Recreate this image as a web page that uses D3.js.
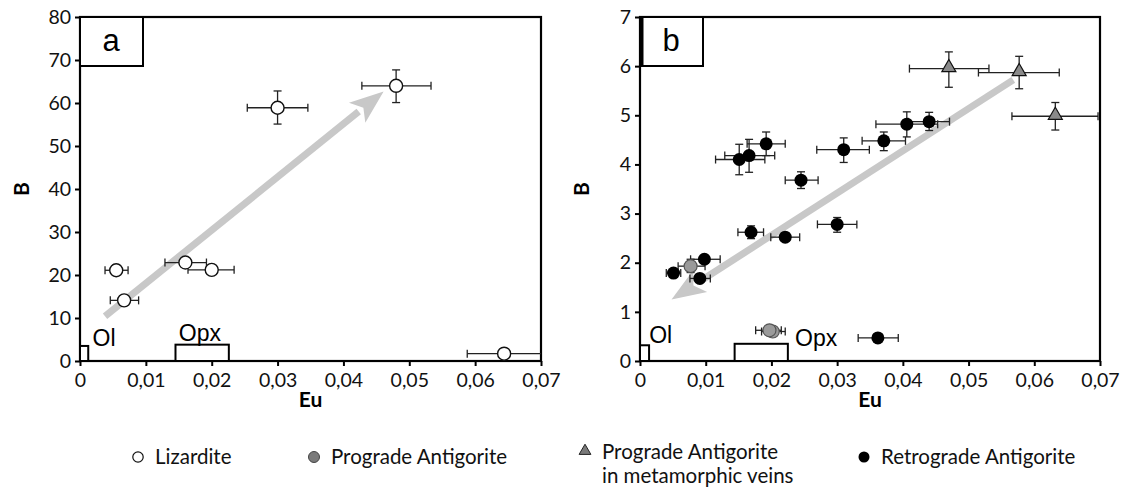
<!DOCTYPE html>
<html><head><meta charset="utf-8">
<script src="https://cdn.jsdelivr.net/npm/d3@7"></script>
<style>body{margin:0;background:#fff}svg{display:block}</style>
</head><body>
<svg id="c" width="1136" height="487"></svg>
<script>
// ---- Panel a : Lizardite ----
const lizX   = [0.0480, 0.0300, 0.0160, 0.0200, 0.0055, 0.0067, 0.0644];
const lizY   = [64.0, 58.9, 22.9, 21.2, 21.1, 14.1, 1.7];
const lizXLo = [0.0428, 0.0254, 0.0129, 0.0164, 0.0038, 0.0046, 0.0588];
const lizXHi = [0.0533, 0.0346, 0.0192, 0.0234, 0.0073, 0.0089, 0.0700];
const lizYLo = [60.1, 55.1, 22.9, 21.2, 19.9, 14.1, 1.7];
const lizYHi = [67.7, 62.8, 22.9, 21.2, 22.3, 14.1, 1.7];

// ---- Panel b ----
const retroX   = [0.0406, 0.0440, 0.0371, 0.0310, 0.0192, 0.0166, 0.0151, 0.0245, 0.0169, 0.0221, 0.0300, 0.0098, 0.0051, 0.0091, 0.0362];
const retroY   = [4.82, 4.87, 4.48, 4.30, 4.42, 4.18, 4.10, 3.68, 2.62, 2.52, 2.78, 2.07, 1.79, 1.68, 0.47];
const retroXLo = [0.0359, 0.0408, 0.0338, 0.0269, 0.0163, 0.0129, 0.0115, 0.0221, 0.0149, 0.0199, 0.0270, 0.0077, 0.0040, 0.0076, 0.0332];
const retroXHi = [0.0453, 0.0471, 0.0404, 0.0349, 0.0221, 0.0205, 0.0190, 0.0271, 0.0188, 0.0243, 0.0330, 0.0122, 0.0062, 0.0107, 0.0393];
const retroYLo = [4.56, 4.69, 4.28, 4.04, 4.18, 3.84, 3.79, 3.51, 2.49, 2.44, 2.62, 1.99, 1.74, 1.62, 0.47];
const retroYHi = [5.07, 5.06, 4.66, 4.54, 4.66, 4.51, 4.41, 3.85, 2.75, 2.60, 2.92, 2.15, 1.85, 1.74, 0.47];

const progX   = [0.0202, 0.0197, 0.0077];
const progY   = [0.600, 0.625, 1.93];
const progXLo = [0.0185, 0.0176, 0.0058];
const progXHi = [0.0221, 0.0215, 0.0099];
const progYLo = [0.600, 0.625, 1.80];
const progYHi = [0.600, 0.625, 2.07];

const veinX   = [0.0470, 0.0577, 0.0632];
const veinY   = [5.95, 5.87, 4.98];
const veinXLo = [0.0410, 0.0515, 0.0566];
const veinXHi = [0.0531, 0.0638, 0.0697];
const veinYLo = [5.57, 5.54, 4.70];
const veinYHi = [6.29, 6.20, 5.26];

// tick values
const xTicks = [0, 0.01, 0.02, 0.03, 0.04, 0.05, 0.06, 0.07];
const yTicksA = [0, 10, 20, 30, 40, 50, 60, 70, 80];
const yTicksB = [0, 1, 2, 3, 4, 5, 6, 7];

// arrows (trend) [x1,y1,x2,y2] in data units
const arrowA = [0.0038, 10.4, 0.0461, 62.7];
const arrowB = [0.0568, 5.72, 0.0048, 1.25];

// reference mineral boxes [x0,x1,y0,y1]
const olA = [0, 0.00125, 0, 3.5], opxA = [0.0145, 0.0226, 0, 3.8];
const olB = [0, 0.00138, 0, 0.32], opxB = [0.0144, 0.0225, 0, 0.35];

const legendItems = ["Lizardite", "Prograde Antigorite", "Prograde Antigorite|in metamorphic veins", "Retrograde Antigorite"];

const svg = d3.select("#c");
const fmt = d => d === 0 ? "0" : d3.format(".2f")(d).replace(".", ",");

function rows(X, Y, XL, XH, YL, YH) {
  return X.map((x, i) => ({x, y: Y[i], xl: XL[i], xh: XH[i], yl: YL[i], yh: YH[i]}));
}

function panel(opts) {
  const {left, right, top, bottom, yMax, yTicks, label, arrow, ol, opx, olT, opxT} = opts;
  const x = d3.scaleLinear().domain([0, 0.07]).range([left, right]);
  const y = d3.scaleLinear().domain([0, yMax]).range([bottom, top]);
  const g = svg.append("g");

  // axes
  const xa = g.append("g").attr("transform", `translate(0,${bottom})`)
    .call(d3.axisBottom(x).tickValues(xTicks).tickFormat(fmt).tickSize(5).tickSizeOuter(0));
  const ya = g.append("g").attr("transform", `translate(${left},0)`)
    .call(d3.axisLeft(y).tickValues(yTicks).tickFormat(d => d).tickSize(5).tickSizeOuter(0));
  [xa, ya].forEach(a => {
    a.select(".domain").remove();
    a.selectAll("line").attr("stroke", "#000").attr("stroke-width", 2);
    a.selectAll("text").attr("fill", "#111").style("font-family", "Lato, 'Open Sans', sans-serif").style("font-size", "19.5px");
  });
  xa.selectAll("text").attr("dy", "0.9em");
  ya.selectAll("text").attr("dx", "-0.05em");

  // frame
  g.append("rect").attr("x", left).attr("y", top).attr("width", right - left).attr("height", bottom - top)
    .attr("fill", "none").attr("stroke", "#000").attr("stroke-width", 2.2);

  // axis titles
  g.append("text").attr("x", (left + right) / 2).attr("y", 407).attr("text-anchor", "middle")
    .style("font-family", "Lato, sans-serif").style("font-weight", "bold").style("font-size", "21px").text("Eu");
  g.append("text").attr("transform", `translate(${left - 58},${(top + bottom) / 2}) rotate(-90)`)
    .attr("text-anchor", "middle").attr("dy", "0.35em")
    .style("font-family", "Lato, sans-serif").style("font-weight", "bold").style("font-size", "21px").text("B");

  // label box
  g.append("rect").attr("x", left).attr("y", top).attr("width", 63).attr("height", 49)
    .attr("fill", "#fff").attr("stroke", "#000").attr("stroke-width", 2);
  g.append("text").attr("x", left + 31).attr("y", top + 34).attr("text-anchor", "middle")
    .style("font-family", "'Liberation Sans', Arial, sans-serif").style("font-size", "31px").text(label);

  // Ol / Opx boxes
  [ol, opx].forEach(b => {
    g.append("rect").attr("x", x(b[0])).attr("y", y(b[3])).attr("width", x(b[1]) - x(b[0])).attr("height", y(b[2]) - y(b[3]))
      .attr("fill", "#fff").attr("stroke", "#000").attr("stroke-width", 2);
  });
  [[olT, "Ol"], [opxT, "Opx"]].forEach(([p, t]) => {
    g.append("text").attr("x", x(p[0])).attr("y", y(p[1]))
      .style("font-family", "'Liberation Sans', Arial, sans-serif").style("font-size", "23px").text(t);
  });

  // arrow
  const x1 = x(arrow[0]), y1 = y(arrow[1]), x2 = x(arrow[2]), y2 = y(arrow[3]);
  const L = Math.hypot(x2 - x1, y2 - y1), ux = (x2 - x1) / L, uy = (y2 - y1) / L;
  const hl = 34, hw = 13;
  const bx = x2 - ux * hl, by = y2 - uy * hl;
  g.append("line").attr("x1", x1).attr("y1", y1).attr("x2", bx + ux * 2).attr("y2", by + uy * 2)
    .attr("stroke", "#c8c8c8").attr("stroke-width", 7);
  g.append("path").attr("d", `M${x2},${y2}L${bx - uy * hw},${by + ux * hw}L${bx + ux * 8},${by + uy * 8}L${bx + uy * hw},${by - ux * hw}Z`)
    .attr("fill", "#c8c8c8");

  return {g, x, y};
}

function errs(p, data) {
  const {g, x, y} = p;
  const c = 4;
  const e = g.append("g").attr("stroke", "#222").attr("stroke-width", 1.3);
  data.forEach(d => {
    if (d.xh > d.xl) {
      e.append("line").attr("x1", x(d.xl)).attr("x2", x(d.xh)).attr("y1", y(d.y)).attr("y2", y(d.y));
      e.append("line").attr("x1", x(d.xl)).attr("x2", x(d.xl)).attr("y1", y(d.y) - c).attr("y2", y(d.y) + c);
      if (d.xh < 0.0699) e.append("line").attr("x1", x(d.xh)).attr("x2", x(d.xh)).attr("y1", y(d.y) - c).attr("y2", y(d.y) + c);
    }
    if (d.yh > d.yl) {
      e.append("line").attr("x1", x(d.x)).attr("x2", x(d.x)).attr("y1", y(d.yl)).attr("y2", y(d.yh));
      e.append("line").attr("x1", x(d.x) - c).attr("x2", x(d.x) + c).attr("y1", y(d.yl)).attr("y2", y(d.yl));
      e.append("line").attr("x1", x(d.x) - c).attr("x2", x(d.x) + c).attr("y1", y(d.yh)).attr("y2", y(d.yh));
    }
  });
}

const pa = panel({left: 80, right: 541, top: 17, bottom: 361, yMax: 80, yTicks: yTicksA, label: "a",
  arrow: arrowA, ol: olA, opx: opxA, olT: [0.0019, 3.6], opxT: [0.0150, 4.6]});
const liz = rows(lizX, lizY, lizXLo, lizXHi, lizYLo, lizYHi);
errs(pa, liz);
pa.g.selectAll(".liz").data(liz).join("circle").attr("cx", d => pa.x(d.x)).attr("cy", d => pa.y(d.y)).attr("r", 6.5)
  .attr("fill", "#fff").attr("stroke", "#111").attr("stroke-width", 1.4);

const pb = panel({left: 640, right: 1100, top: 17, bottom: 361, yMax: 7, yTicks: yTicksB, label: "b",
  arrow: arrowB, ol: olB, opx: opxB, olT: [0.0014, 0.37], opxT: [0.0236, 0.30]});
pb.g.append("line").attr("x1", 641.5).attr("x2", 641.5).attr("y1", pb.y(7)).attr("y2", pb.y(6)).attr("stroke", "#000").attr("stroke-width", 4);
const prog = rows(progX, progY, progXLo, progXHi, progYLo, progYHi);
const vein = rows(veinX, veinY, veinXLo, veinXHi, veinYLo, veinYHi);
const retro = rows(retroX, retroY, retroXLo, retroXHi, retroYLo, retroYHi);
errs(pb, vein); errs(pb, prog); errs(pb, retro);
pb.g.selectAll(".prog").data(prog).join("circle").attr("cx", d => pb.x(d.x)).attr("cy", d => pb.y(d.y)).attr("r", 6.5)
  .attr("fill", "#9a9a9a").attr("stroke", "#555").attr("stroke-width", 1.2);
pb.g.selectAll(".retro").data(retro).join("circle").attr("cx", d => pb.x(d.x)).attr("cy", d => pb.y(d.y)).attr("r", 6.5)
  .attr("fill", "#000");
const tri = d3.symbol().type(d3.symbolTriangle).size(85);
pb.g.selectAll(".vein").data(vein).join("path").attr("d", tri)
  .attr("transform", d => `translate(${pb.x(d.x)},${pb.y(d.y) - 1})`)
  .attr("fill", "#8a8a8a").attr("stroke", "#111").attr("stroke-width", 1.2);

// legend
const lg = svg.append("g").style("font-family", "Lato, 'Open Sans', sans-serif").style("font-size", "20.5px").attr("fill", "#111");
const lx = [138, 314, 585, 864];
const ly = [457, 457, 452, 457];
legendItems.forEach((t, i) => {
  if (i === 0) lg.append("circle").attr("cx", lx[i]).attr("cy", ly[i]).attr("r", 5.2).attr("fill", "#fff").attr("stroke", "#111").attr("stroke-width", 1.2);
  if (i === 1) lg.append("circle").attr("cx", lx[i]).attr("cy", ly[i]).attr("r", 5.5).attr("fill", "#7a7a7a").attr("stroke", "#444").attr("stroke-width", 1);
  if (i === 2) lg.append("path").attr("d", d3.symbol().type(d3.symbolTriangle).size(60)).attr("transform", `translate(${lx[i]},${ly[i] - 1})`).attr("fill", "#7a7a7a").attr("stroke", "#222").attr("stroke-width", 1);
  if (i === 3) lg.append("circle").attr("cx", lx[i]).attr("cy", ly[i]).attr("r", 5.5).attr("fill", "#000");
  const parts = t.split("|");
  parts.forEach((s, k) => lg.append("text").attr("x", lx[i] + 17).attr("y", ly[i] + 7 + k * 24).text(s));
});
</script>
</body></html>
